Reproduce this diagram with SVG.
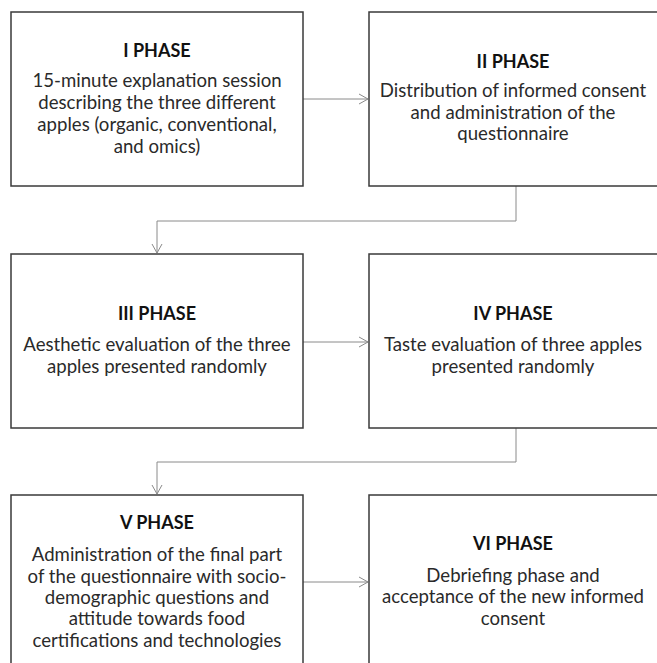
<svg xmlns="http://www.w3.org/2000/svg" width="657" height="663" viewBox="0 0 657 663">
<defs>
<style>
.box{fill:#fff;stroke:#3a3a3a;stroke-width:1.5}
.t{font-family:Lato,"Liberation Sans",sans-serif;font-size:18.6px;fill:#2a2a2a;text-anchor:middle}
.h{font-weight:bold;font-size:18px;fill:#111}
.c{fill:none;stroke:#8a8a8a;stroke-width:1}
</style>
<marker id="ah" markerWidth="12" markerHeight="12" refX="10" refY="6" orient="auto" markerUnits="userSpaceOnUse">
<path d="M1,1 L10,6 L1,11" fill="none" stroke="#8a8a8a" stroke-width="1"/>
</marker>
</defs>
<rect width="657" height="663" fill="#fff"/>
<g id="connectors">
<path class="c" d="M303,99 H368" marker-end="url(#ah)"/>
<path class="c" d="M516,186 V221 H157 V253" marker-end="url(#ah)"/>
<path class="c" d="M303,342 H368" marker-end="url(#ah)"/>
<path class="c" d="M516,428 V462 H157 V494" marker-end="url(#ah)"/>
<path class="c" d="M303,582 H368" marker-end="url(#ah)"/>
</g>
<g id="phase1">
<rect class="box" x="11" y="12" width="292" height="174"/>
<text class="t h" x="157" y="57">I PHASE</text>
<text class="t" x="157" y="87">15-minute explanation session</text>
<text class="t" x="157" y="109">describing the three different</text>
<text class="t" x="157" y="131">apples (organic, conventional,</text>
<text class="t" x="157" y="153">and omics)</text>
</g>
<g id="phase2">
<rect class="box" x="369" y="12" width="292" height="174"/>
<text class="t h" x="513" y="68">II PHASE</text>
<text class="t" x="513" y="97">Distribution of informed consent</text>
<text class="t" x="513" y="119">and administration of the</text>
<text class="t" x="513" y="140">questionnaire</text>
</g>
<g id="phase3">
<rect class="box" x="11" y="254" width="292" height="174"/>
<text class="t h" x="157" y="320">III PHASE</text>
<text class="t" x="157" y="351">Aesthetic evaluation of the three</text>
<text class="t" x="157" y="373">apples presented randomly</text>
</g>
<g id="phase4">
<rect class="box" x="369" y="254" width="292" height="174"/>
<text class="t h" x="513" y="320">IV PHASE</text>
<text class="t" x="513" y="351">Taste evaluation of three apples</text>
<text class="t" x="513" y="373">presented randomly</text>
</g>
<g id="phase5">
<rect class="box" x="11" y="495" width="292" height="180"/>
<text class="t h" x="157" y="529">V PHASE</text>
<text class="t" x="157" y="561">Administration of the final part</text>
<text class="t" x="157" y="583">of the questionnaire with socio-</text>
<text class="t" x="157" y="604">demographic questions and</text>
<text class="t" x="157" y="625">attitude towards food</text>
<text class="t" x="157" y="647">certifications and technologies</text>
</g>
<g id="phase6">
<rect class="box" x="369" y="495" width="292" height="180"/>
<text class="t h" x="513" y="550">VI PHASE</text>
<text class="t" x="513" y="582">Debriefing phase and</text>
<text class="t" x="513" y="603">acceptance of the new informed</text>
<text class="t" x="513" y="625">consent</text>
</g>
</svg>
